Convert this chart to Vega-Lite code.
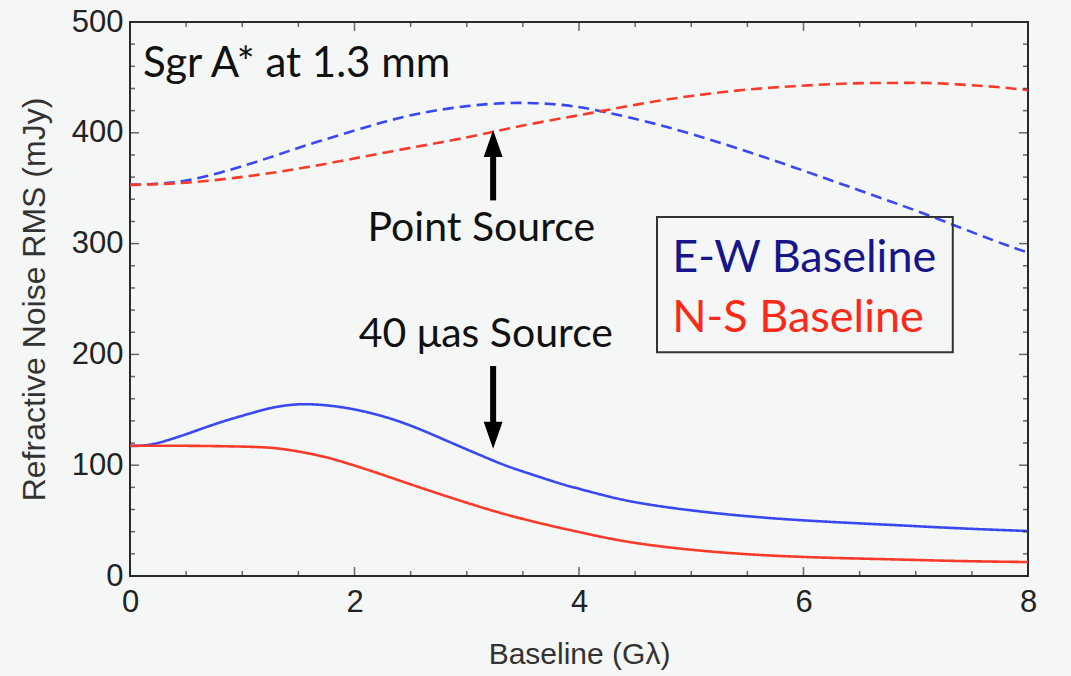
{
  "$schema": "https://vega.github.io/schema/vega-lite/v6.json",
  "width": 898,
  "height": 554,
  "autosize": {"type": "none"},
  "padding": {"left": 130, "top": 22, "right": 43, "bottom": 100},
  "background": "#f4f7f5",
  "config": {
    "view": {"stroke": "#2a2a2a", "strokeWidth": 2},
    "axis": {"labelFont": "Liberation Sans", "titleFont": "Liberation Sans", "labelColor": "#222", "titleColor": "#333", "titleFontWeight": "normal"}
  },
  "datasets": {
    "curves": [
      {"x": 0, "y": 353, "series": "EW", "source": "Point"},
      {"x": 0.25, "y": 354, "series": "EW", "source": "Point"},
      {"x": 0.5, "y": 357, "series": "EW", "source": "Point"},
      {"x": 0.8, "y": 364, "series": "EW", "source": "Point"},
      {"x": 1.1, "y": 373, "series": "EW", "source": "Point"},
      {"x": 1.4, "y": 383, "series": "EW", "source": "Point"},
      {"x": 1.69, "y": 392.5, "series": "EW", "source": "Point"},
      {"x": 2.0, "y": 402, "series": "EW", "source": "Point"},
      {"x": 2.29, "y": 410.5, "series": "EW", "source": "Point"},
      {"x": 2.58, "y": 417.5, "series": "EW", "source": "Point"},
      {"x": 2.88, "y": 422.5, "series": "EW", "source": "Point"},
      {"x": 3.2, "y": 426, "series": "EW", "source": "Point"},
      {"x": 3.48, "y": 427, "series": "EW", "source": "Point"},
      {"x": 3.75, "y": 426, "series": "EW", "source": "Point"},
      {"x": 3.98, "y": 423.5, "series": "EW", "source": "Point"},
      {"x": 4.22, "y": 419, "series": "EW", "source": "Point"},
      {"x": 4.72, "y": 407, "series": "EW", "source": "Point"},
      {"x": 5.32, "y": 389, "series": "EW", "source": "Point"},
      {"x": 5.91, "y": 369, "series": "EW", "source": "Point"},
      {"x": 6.5, "y": 348, "series": "EW", "source": "Point"},
      {"x": 7.1, "y": 326, "series": "EW", "source": "Point"},
      {"x": 7.69, "y": 303, "series": "EW", "source": "Point"},
      {"x": 8, "y": 292, "series": "EW", "source": "Point"},
      {"x": 0, "y": 353, "series": "NS", "source": "Point"},
      {"x": 0.5, "y": 355, "series": "NS", "source": "Point"},
      {"x": 1.1, "y": 361.5, "series": "NS", "source": "Point"},
      {"x": 1.69, "y": 371, "series": "NS", "source": "Point"},
      {"x": 2.29, "y": 382.5, "series": "NS", "source": "Point"},
      {"x": 2.88, "y": 393.5, "series": "NS", "source": "Point"},
      {"x": 3.24, "y": 401, "series": "NS", "source": "Point"},
      {"x": 3.6, "y": 408.5, "series": "NS", "source": "Point"},
      {"x": 3.98, "y": 415.5, "series": "NS", "source": "Point"},
      {"x": 4.22, "y": 420, "series": "NS", "source": "Point"},
      {"x": 4.6, "y": 427, "series": "NS", "source": "Point"},
      {"x": 5.02, "y": 433.5, "series": "NS", "source": "Point"},
      {"x": 5.5, "y": 439, "series": "NS", "source": "Point"},
      {"x": 5.91, "y": 442, "series": "NS", "source": "Point"},
      {"x": 6.4, "y": 444.5, "series": "NS", "source": "Point"},
      {"x": 6.8, "y": 445, "series": "NS", "source": "Point"},
      {"x": 7.1, "y": 445, "series": "NS", "source": "Point"},
      {"x": 7.4, "y": 443.5, "series": "NS", "source": "Point"},
      {"x": 7.7, "y": 441.5, "series": "NS", "source": "Point"},
      {"x": 8, "y": 438.5, "series": "NS", "source": "Point"},
      {"x": 0, "y": 117.5, "series": "EW", "source": "Extended"},
      {"x": 0.2, "y": 119, "series": "EW", "source": "Extended"},
      {"x": 0.5, "y": 128, "series": "EW", "source": "Extended"},
      {"x": 0.8, "y": 138.5, "series": "EW", "source": "Extended"},
      {"x": 1.1, "y": 147.5, "series": "EW", "source": "Extended"},
      {"x": 1.3, "y": 152.5, "series": "EW", "source": "Extended"},
      {"x": 1.52, "y": 155, "series": "EW", "source": "Extended"},
      {"x": 1.75, "y": 154, "series": "EW", "source": "Extended"},
      {"x": 1.99, "y": 150.5, "series": "EW", "source": "Extended"},
      {"x": 2.29, "y": 143, "series": "EW", "source": "Extended"},
      {"x": 2.58, "y": 132.5, "series": "EW", "source": "Extended"},
      {"x": 2.88, "y": 119.5, "series": "EW", "source": "Extended"},
      {"x": 3.24, "y": 104, "series": "EW", "source": "Extended"},
      {"x": 3.48, "y": 95, "series": "EW", "source": "Extended"},
      {"x": 3.83, "y": 83.5, "series": "EW", "source": "Extended"},
      {"x": 4.01, "y": 78.5, "series": "EW", "source": "Extended"},
      {"x": 4.43, "y": 68, "series": "EW", "source": "Extended"},
      {"x": 5.02, "y": 59, "series": "EW", "source": "Extended"},
      {"x": 5.61, "y": 53, "series": "EW", "source": "Extended"},
      {"x": 6.21, "y": 49, "series": "EW", "source": "Extended"},
      {"x": 6.8, "y": 46, "series": "EW", "source": "Extended"},
      {"x": 7.4, "y": 43, "series": "EW", "source": "Extended"},
      {"x": 8, "y": 40.6, "series": "EW", "source": "Extended"},
      {"x": 0, "y": 117.5, "series": "NS", "source": "Extended"},
      {"x": 0.5, "y": 117.5, "series": "NS", "source": "Extended"},
      {"x": 1.1, "y": 116.5, "series": "NS", "source": "Extended"},
      {"x": 1.4, "y": 114, "series": "NS", "source": "Extended"},
      {"x": 1.69, "y": 108.5, "series": "NS", "source": "Extended"},
      {"x": 1.99, "y": 100, "series": "NS", "source": "Extended"},
      {"x": 2.29, "y": 90, "series": "NS", "source": "Extended"},
      {"x": 2.58, "y": 80, "series": "NS", "source": "Extended"},
      {"x": 2.88, "y": 70, "series": "NS", "source": "Extended"},
      {"x": 3.18, "y": 60.5, "series": "NS", "source": "Extended"},
      {"x": 3.48, "y": 52, "series": "NS", "source": "Extended"},
      {"x": 3.83, "y": 43.5, "series": "NS", "source": "Extended"},
      {"x": 4.01, "y": 39.5, "series": "NS", "source": "Extended"},
      {"x": 4.43, "y": 31, "series": "NS", "source": "Extended"},
      {"x": 5.02, "y": 23.5, "series": "NS", "source": "Extended"},
      {"x": 5.61, "y": 19, "series": "NS", "source": "Extended"},
      {"x": 6.21, "y": 16.5, "series": "NS", "source": "Extended"},
      {"x": 6.8, "y": 15, "series": "NS", "source": "Extended"},
      {"x": 7.4, "y": 13.5, "series": "NS", "source": "Extended"},
      {"x": 8, "y": 12.6, "series": "NS", "source": "Extended"}
    ],
    "xt": [
      {"x": 0}, {"x": 0.5}, {"x": 1}, {"x": 1.5}, {"x": 2}, {"x": 2.5}, {"x": 3}, {"x": 3.5}, {"x": 4},
      {"x": 4.5}, {"x": 5}, {"x": 5.5}, {"x": 6}, {"x": 6.5}, {"x": 7}, {"x": 7.5}, {"x": 8}
    ],
    "yt": [
      {"y": 0}, {"y": 20}, {"y": 40}, {"y": 60}, {"y": 80}, {"y": 100}, {"y": 120}, {"y": 140}, {"y": 160}, {"y": 180},
      {"y": 200}, {"y": 220}, {"y": 240}, {"y": 260}, {"y": 280}, {"y": 300}, {"y": 320}, {"y": 340}, {"y": 360}, {"y": 380},
      {"y": 400}, {"y": 420}, {"y": 440}, {"y": 460}, {"y": 480}, {"y": 500}
    ],
    "one": [{"k": 1}]
  },
  "layer": [
    {
      "data": {"name": "curves"},
      "mark": {"type": "line", "strokeWidth": 2.6, "interpolate": "natural", "clip": true},
      "encoding": {
        "x": {"field": "x", "type": "quantitative", "title": "Baseline (Gλ)",
              "scale": {"domain": [0, 8], "nice": false, "zero": false},
              "axis": {"values": [0, 2, 4, 6, 8], "format": "d", "ticks": false, "domain": false, "grid": false, "labelFontSize": 31, "labelPadding": 11, "titleFontSize": 30, "titlePadding": 22, "labelFlush": false}},
        "y": {"field": "y", "type": "quantitative", "title": "Refractive Noise RMS (mJy)",
              "scale": {"domain": [0, 500], "nice": false},
              "axis": {"values": [0, 100, 200, 300, 400, 500], "format": "d", "ticks": false, "domain": false, "grid": false, "labelFontSize": 31, "labelPadding": 7, "titleFontSize": 32, "titlePadding": 20, "labelFlush": false}},
        "color": {"field": "series", "type": "nominal", "scale": {"domain": ["EW", "NS"], "range": ["#3848f5", "#fa3a2a"]}, "legend": null},
        "strokeDash": {"field": "source", "type": "nominal", "scale": {"domain": ["Point", "Extended"], "range": [[11, 6], [1, 0]]}, "legend": null}
      }
    },
    {
      "data": {"name": "xt"},
      "mark": {"type": "tick", "orient": "vertical", "thickness": 1.5, "color": "#2a2a2a", "clip": true},
      "encoding": {
        "x": {"field": "x", "type": "quantitative", "title": "Baseline (Gλ)"},
        "y": {"datum": 0, "type": "quantitative", "title": "Refractive Noise RMS (mJy)"},
        "size": {"condition": {"test": "datum.x % 2 === 0", "value": 18}, "value": 10}
      }
    },
    {
      "data": {"name": "xt"},
      "mark": {"type": "tick", "orient": "vertical", "thickness": 1.5, "color": "#2a2a2a", "clip": true},
      "encoding": {
        "x": {"field": "x", "type": "quantitative", "title": "Baseline (Gλ)"},
        "y": {"datum": 500, "type": "quantitative", "title": "Refractive Noise RMS (mJy)"},
        "size": {"condition": {"test": "datum.x % 2 === 0", "value": 18}, "value": 10}
      }
    },
    {
      "data": {"name": "yt"},
      "mark": {"type": "tick", "orient": "horizontal", "thickness": 1.5, "color": "#2a2a2a", "clip": true},
      "encoding": {
        "y": {"field": "y", "type": "quantitative", "title": "Refractive Noise RMS (mJy)"},
        "x": {"datum": 0, "type": "quantitative", "title": "Baseline (Gλ)"},
        "size": {"condition": {"test": "datum.y % 100 === 0", "value": 18}, "value": 10}
      }
    },
    {
      "data": {"name": "yt"},
      "mark": {"type": "tick", "orient": "horizontal", "thickness": 1.5, "color": "#2a2a2a", "clip": true},
      "encoding": {
        "y": {"field": "y", "type": "quantitative", "title": "Refractive Noise RMS (mJy)"},
        "x": {"datum": 8, "type": "quantitative", "title": "Baseline (Gλ)"},
        "size": {"condition": {"test": "datum.y % 100 === 0", "value": 18}, "value": 10}
      }
    },
    {
      "data": {"name": "one"},
      "mark": {"type": "text", "text": "Sgr A* at 1.3 mm", "font": "Lato", "fontSize": 42, "align": "left", "baseline": "alphabetic", "color": "#111"},
      "encoding": {"x": {"datum": 0.116, "type": "quantitative"}, "y": {"datum": 450.4, "type": "quantitative"}}
    },
    {
      "data": {"name": "one"},
      "mark": {"type": "text", "text": "Point Source", "font": "Lato", "fontSize": 41, "align": "center", "baseline": "alphabetic", "color": "#111"},
      "encoding": {"x": {"datum": 3.13, "type": "quantitative"}, "y": {"datum": 302.6, "type": "quantitative"}}
    },
    {
      "data": {"name": "one"},
      "mark": {"type": "text", "text": "40 μas Source", "font": "Lato", "fontSize": 41, "align": "center", "baseline": "alphabetic", "color": "#111"},
      "encoding": {"x": {"datum": 3.17, "type": "quantitative"}, "y": {"datum": 206.7, "type": "quantitative"}}
    },
    {
      "data": {"name": "one"},
      "mark": {"type": "rule", "strokeWidth": 6, "color": "#000"},
      "encoding": {"x": {"datum": 3.235, "type": "quantitative"}, "y": {"datum": 339, "type": "quantitative"}, "y2": {"datum": 380}}
    },
    {
      "data": {"name": "one"},
      "mark": {"type": "point", "shape": "M-0.7,1L0.7,1L0,-1Z", "size": 729, "filled": true, "color": "#000", "opacity": 1},
      "encoding": {"x": {"datum": 3.235, "type": "quantitative"}, "y": {"datum": 390.3, "type": "quantitative"}}
    },
    {
      "data": {"name": "one"},
      "mark": {"type": "rule", "strokeWidth": 6, "color": "#000"},
      "encoding": {"x": {"datum": 3.235, "type": "quantitative"}, "y": {"datum": 189.5, "type": "quantitative"}, "y2": {"datum": 137}}
    },
    {
      "data": {"name": "one"},
      "mark": {"type": "point", "shape": "M-0.7,-1L0.7,-1L0,1Z", "size": 729, "filled": true, "color": "#000", "opacity": 1},
      "encoding": {"x": {"datum": 3.235, "type": "quantitative"}, "y": {"datum": 127, "type": "quantitative"}}
    },
    {
      "data": {"name": "one"},
      "mark": {"type": "rect", "fill": null, "fillOpacity": 0, "stroke": "#333", "strokeWidth": 2},
      "encoding": {"x": {"datum": 4.695, "type": "quantitative"}, "x2": {"datum": 7.33}, "y": {"datum": 202, "type": "quantitative"}, "y2": {"datum": 324}}
    },
    {
      "data": {"name": "one"},
      "mark": {"type": "text", "text": "E-W Baseline", "font": "Lato", "fontSize": 45, "align": "left", "baseline": "alphabetic", "color": "#16168a"},
      "encoding": {"x": {"datum": 4.83, "type": "quantitative"}, "y": {"datum": 274.4, "type": "quantitative"}}
    },
    {
      "data": {"name": "one"},
      "mark": {"type": "text", "text": "N-S Baseline", "font": "Lato", "fontSize": 45, "align": "left", "baseline": "alphabetic", "color": "#fa2a1a"},
      "encoding": {"x": {"datum": 4.83, "type": "quantitative"}, "y": {"datum": 220.2, "type": "quantitative"}}
    }
  ]
}
